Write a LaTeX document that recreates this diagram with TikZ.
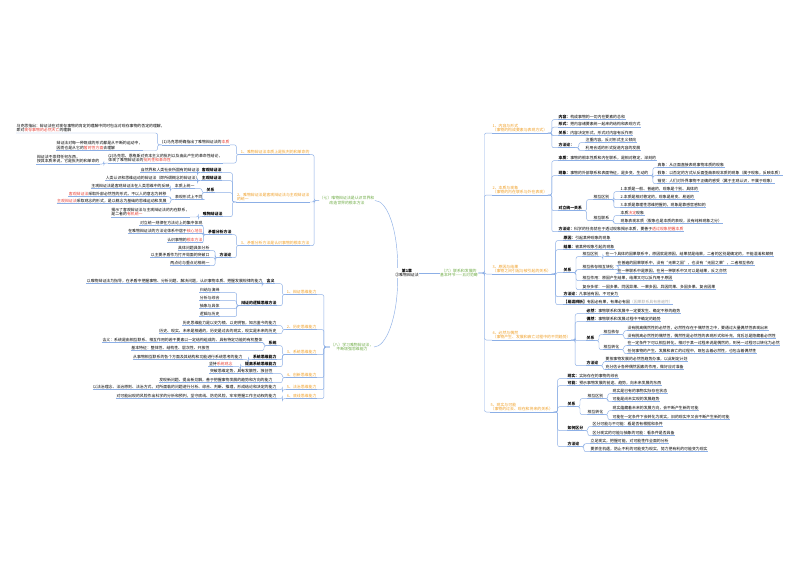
\documentclass[tikz,border=0pt]{standalone}
\usepackage{fontspec}
\setmainfont{Noto Sans CJK SC}
\newcommand\myfs{\fontsize{3.9}{4.8}\selectfont}
\definecolor{lc}{RGB}{140,175,230}
\definecolor{orc}{RGB}{240,160,40}
\definecolor{grc}{RGB}{112,173,71}
\definecolor{rdc}{RGB}{230,60,50}
\definecolor{gyc}{RGB}{170,170,170}
\newcommand\rcon[3][4]{\draw[cn] (#2.south east) -- ++(#1,0) |- (#3.south west);}
\newcommand\lcon[3][4]{\draw[cn] (#2.south west) -- ++(-#1,0) |- (#3.south east);}
\begin{document}
\begin{tikzpicture}[x=1pt,y=-1pt,
  base/.style={font=\myfs, inner xsep=0.4pt, inner ysep=0.6pt, align=left},
  lk/.style={draw=lc,line width=0.45pt},
  cn/.style={draw=lc,line width=0.45pt,rounded corners=2pt},
  ul/.style={append after command={(\tikzlastnode.south west) edge[lk] (\tikzlastnode.south east)}},
  R/.style={base,ul,anchor=west},
  L/.style={base,ul,anchor=east},
  RO/.style={R,text=orc},
  LO/.style={L,text=orc},
  main/.style={base,align=center,text=grc}]
\fill[white] (0,0) rectangle (800,566);
\useasboundingbox (0,0) rectangle (800,566);

% ---------- centre and main topics
\node[base,align=center] (c) at (407,273) {\textbf{第1章}\\②唯物辩证法};
\node[main] (n6) at (459,273) {（六）联系和发展的\\基本环节——五对范畴};
\node[main] (n7) at (347,200.5) {（七）唯物辩证法是认识世界和\\改造世界的根本方法};
\node[main] (n8) at (352,347) {（八）学习唯物辩证法，\\不断增强思维能力};
\draw[cn] (c.east) -- (n6.west);
\draw[cn] (n7.east) .. controls +(12,0) and +(0,-40) .. ([xshift=3pt]c.north west);
\draw[cn] (n8.east) .. controls +(12,0) and +(0,40) .. ([xshift=3pt]c.south west);

% ---------- right: five pairs
\node[RO] (R1) at (492,128) {1、内容与形式\\（事物的构成要素与表现方式）};
\node[RO] (R2) at (492,190) {2、本质与现象\\（事物的内在联系与外在表现）};
\node[RO] (R3) at (492,269) {3、原因与结果\\（事物之间引起与被引起的关系）};
\node[RO] (R4) at (492,335) {4、必然与偶然\\（事物产生、发展和衰亡过程中的不同趋势）};
\node[RO] (R5) at (490,407) {5、现实与可能\\（事物的过去、现在和将来的关系）};
\foreach \r in {R1,R2,R3,R4,R5} {\draw[cn] (n6.east) -- ++(6,0) |- (\r.south west);}

\node[R] (R1a) at (558,117) {\textbf{内容：}构成事物的一切内在要素的总和};
\node[R] (R1b) at (558,124.5) {\textbf{形式：}把内容诸要素统一起来的结构和表现方式};
\node[R] (R1c) at (558,133) {\textbf{关系：}内容决定形式，形式对内容有反作用};
\node[R] (R1d) at (558,145) {\textbf{方法论：}};
\node[R] (R1d1) at (585,140) {注重内容，反对形式主义倾向};
\node[R] (R1d2) at (585,148) {利用合适的形式促进内容的发展};
\rcon{R1}{R1a}\rcon{R1}{R1b}\rcon{R1}{R1c}\rcon{R1}{R1d}
\rcon{R1d}{R1d1}\rcon{R1d}{R1d2}

\node[R] (R2a) at (558,158) {\textbf{本质：}事物的根本性质和内在联系，是相对稳定、深刻的};
\node[R] (R2b) at (558,173) {\textbf{现象：}事物的外部联系和表面特征，是多变、生动的};
\node[R] (R2b1) at (657,165) {真象：从正面直接表现事物本质的现象};
\node[R] (R2b2) at (657,173) {假象：以否定的方式从反面歪曲表现本质的现象（属于现象，反映本质）};
\node[R] (R2b3) at (657,181) {错觉：人们对外界事物不正确的感受（属于主观认识，不属于现象）};
\node[R] (R2c) at (558,208) {\textbf{对立统一关系}};
\node[R] (R2c1) at (593,197) {相互区别};
\node[R] (R2c1a) at (620,189) {1.本质是一般、普遍的，现象是个别、具体的};
\node[R] (R2c1b) at (620,197) {2.本质是相对稳定的，现象是易变、易逝的};
\node[R] (R2c1c) at (620,205) {3.本质是靠理性思维把握的，现象是靠感官感知的};
\node[R] (R2c2) at (593,218) {相互联系};
\node[R] (R2c2a) at (620,213) {本质\textcolor{rdc}{决定}现象};
\node[R] (R2c2b) at (620,221) {现象表现本质（假象也是本质的表现，没有纯粹现象之分）};
\node[R] (R2d) at (558,229) {\textbf{方法论：}科学的任务就在于透过现象揭示本质，要善于\textcolor{rdc}{透过现象把握本质}};
\rcon{R2}{R2a}\rcon{R2}{R2b}\rcon{R2}{R2c}\rcon{R2}{R2d}
\rcon{R2b}{R2b1}\rcon{R2b}{R2b2}\rcon{R2b}{R2b3}
\rcon{R2c}{R2c1}\rcon{R2c}{R2c2}
\rcon{R2c1}{R2c1a}\rcon{R2c1}{R2c1b}\rcon{R2c1}{R2c1c}
\rcon{R2c2}{R2c2a}\rcon{R2c2}{R2c2b}

\node[R] (R3a) at (563,238) {\textbf{原因：}引起某种现象的现象};
\node[R] (R3b) at (563,247) {\textbf{结果：}被某种现象引起的现象};
\node[R] (R3c) at (563,270) {\textbf{关系}};
\node[R] (R3c1) at (582,254) {相互区别};
\node[R] (R3c1a) at (605,254) {在一个具体的因果联系中，原因就是原因，结果就是结果，二者的区别是确定的，不能混淆和颠倒};
\node[R] (R3c2) at (582,267) {相互依存相互转化};
\node[R] (R3c2a) at (617,263) {在普遍的因果联系中，没有“无果之因”，也没有“无因之果”，二者相互依存};
\node[R] (R3c2b) at (617,271) {在一种联系中是原因，在另一种联系中又可以是结果，反之亦然};
\node[R] (R3c3) at (582,278) {相互作用：原因产生结果，结果又可以反作用于原因};
\node[R] (R3c4) at (582,287) {复杂多样：一因多果、同因异果、一果多因、异因同果、多因多果、复合因果};
\node[R] (R3d) at (563,294) {\textbf{方法论：}凡事皆有因，不可妄为};
\node[R] (R3e) at (563,302) {\textbf{【易混辨析】}有因必有果，有果必有因\textcolor{gyc}{（因果联系具有普遍性）}};
\rcon{R3}{R3a}\rcon{R3}{R3b}\rcon{R3}{R3c}\rcon{R3}{R3d}\rcon{R3}{R3e}
\rcon{R3c}{R3c1}\rcon{R3c}{R3c2}\rcon{R3c}{R3c3}\rcon{R3c}{R3c4}
\rcon{R3c1}{R3c1a}\rcon{R3c2}{R3c2a}\rcon{R3c2}{R3c2b}

\node[R] (R4a) at (586,311) {\textbf{必然：}事物联系和发展中一定要发生、确定不移的趋势};
\node[R] (R4b) at (586,319) {\textbf{偶然：}事物联系和发展过程中不确定的趋势};
\node[R] (R4c) at (586,338) {\textbf{关系}};
\node[R] (R4c1) at (603,332) {相互依存};
\node[R] (R4c1a) at (627,328) {没有脱离偶然性的必然性，必然性存在于偶然性之中，要通过大量偶然性表现出来};
\node[R] (R4c1b) at (627,336) {没有脱离必然性的偶然性，偶然性是必然性的表现形式和补充，背后总是隐藏着必然性};
\node[R] (R4c2) at (603,347) {相互转化};
\node[R] (R4c2a) at (627,343) {在一定条件下可以相互转化，相对于某一过程来说是偶然的，到另一过程可以转化为必然};
\node[R] (R4c2b) at (627,351) {任何事物的产生、发展和衰亡的过程中，既包含着必然性，也包含着偶然性};
\node[R] (R4d) at (586,363) {\textbf{方法论}};
\node[R] (R4d1) at (605,359) {要按事物发展的必然性趋势办事，以此制定计划};
\node[R] (R4d2) at (605,367) {充分估计各种偶然因素的作用，做好应对准备};
\rcon{R4}{R4a}\rcon{R4}{R4b}\rcon{R4}{R4c}\rcon{R4}{R4d}
\rcon{R4c}{R4c1}\rcon{R4c}{R4c2}
\rcon{R4c1}{R4c1a}\rcon{R4c1}{R4c1b}\rcon{R4c2}{R4c2a}\rcon{R4c2}{R4c2b}
\rcon{R4d}{R4d1}\rcon{R4d}{R4d2}

\node[R] (R5a) at (567,376) {\textbf{现实：}实际存在的事物的综合};
\node[R] (R5b) at (567,383) {\textbf{可能：}预示事物发展的前途、趋势，向未来发展的东西};
\node[R] (R5c) at (567,404) {\textbf{关系}};
\node[R] (R5c1) at (587,396) {相互区别};
\node[R] (R5c1a) at (612,391) {现实是已有的事物实际存在状态};
\node[R] (R5c1b) at (612,399) {可能是尚未实现的发展趋势};
\node[R] (R5c2) at (587,412) {相互转化};
\node[R] (R5c2a) at (612,408) {现实蕴藏着未来的发展方向，会不断产生新的可能};
\node[R] (R5c2b) at (612,417) {可能在一定条件下会转化为现实，旧的现实中又会不断产生新的可能};
\node[R] (R5d) at (567,428) {\textbf{如何区分}};
\node[R] (R5d1) at (592,424) {区分可能与不可能：看是否有根据和条件};
\node[R] (R5d2) at (592,433) {区分现实的可能与抽象的可能：看条件是否具备};
\node[R] (R5e) at (567,444) {\textbf{方法论}};
\node[R] (R5e1) at (590,441) {立足现实，把握可能，对可能性作全面的分析};
\node[R] (R5e2) at (590,449) {要抓住机遇，防止不利的可能变为现实，努力把有利的可能变为现实};
\rcon{R5}{R5a}\rcon{R5}{R5b}\rcon{R5}{R5c}\rcon{R5}{R5d}\rcon{R5}{R5e}
\rcon{R5c}{R5c1}\rcon{R5c}{R5c2}
\rcon{R5c1}{R5c1a}\rcon{R5c1}{R5c1b}\rcon{R5c2}{R5c2a}\rcon{R5c2}{R5c2b}
\rcon{R5d}{R5d1}\rcon{R5d}{R5d2}\rcon{R5e}{R5e1}\rcon{R5e}{R5e2}

% ---------- left: (七)
\node[LO] (L1) at (310,152) {1、唯物辩证法本质上是批判的和革命的};
\node[LO] (L2) at (310,197) {2、唯物辩证法是客观辩证法与主观辩证法\\的统一};
\node[LO] (L3) at (310,243) {3、矛盾分析方法是认识事物的根本方法};
\foreach \l in {L1,L2,L3} {\draw[cn] (n7.west) -- ++(-5,0) |- (\l.south east);}

\node[L] (L1a) at (230,142) {(1)马克思明确指出了唯物辩证法的\textcolor{rdc}{本质}};
\node[base,anchor=south west] (L1a1) at (16,133) {马克思指出：辩证法在对现存事物的肯定的理解中同时包含对现存事物的否定的理解，\\即对\textcolor{rdc}{现存事物的必然灭亡}的理解};
\node[L] (L1a2) at (143,145.5) {辩证法对每一种既成的形式都是从不断的运动中，\\因而也是从它的\textcolor{rdc}{暂时性方面}去理解};
\node[L] (L1b) at (223,158) {(2)马克思、恩格斯对资本主义的批判以及由此产生的革命性结论，\\体现了唯物辩证法的\textcolor{rdc}{批判性和革命性}};
\node[L] (L1b1) at (100,159) {辩证法不崇拜任何东西，\\按其本质来说，它是批判的和革命的};
\lcon{L1}{L1a}\lcon{L1}{L1b}
\lcon{L1a}{L1a2}
\draw[cn] (L1a.south west) -- ++(-4,0) |- (L1a1.south west);
\lcon{L1b}{L1b1}

\node[L] (L2a) at (222,170) {\textbf{客观辩证法}};
\node[L] (L2a1) at (200,170) {自然界和人类社会所固有的辩证法};
\node[L] (L2b) at (222,178) {\textbf{主观辩证法}};
\node[L] (L2b1) at (200,178) {人类认识和思维运动的辩证法（即所谓概念的辩证法）};
\node[L] (L2c) at (215,190) {\textbf{关系}};
\node[L] (L2c1) at (195,186) {本质上统一};
\node[L] (L2c1a) at (170,186) {主观辩证法是客观辩证法在人类思维中的反映};
\node[L] (L2c2) at (203,197) {表现形式上不同};
\node[L] (L2c2a) at (167,194) {\textcolor{rdc}{客观辩证法}采取外部必然性的形式，不以人的意志为转移};
\node[L] (L2c2b) at (167,201) {\textcolor{rdc}{主观辩证法}采取观念的形式，是以概念为基础的思维运动和发展};
\node[L] (L2d) at (223,214) {\textbf{唯物辩证法}};
\node[L] (L2d1) at (190,212) {揭示了客观辩证法与主观辩证法的内在联系，\\是二者的\textcolor{rdc}{有机统一}};
\lcon{L2}{L2a}\lcon{L2}{L2b}\lcon{L2}{L2c}\lcon{L2}{L2d}
\lcon{L2a}{L2a1}\lcon{L2b}{L2b1}
\lcon{L2c}{L2c1}\lcon{L2c}{L2c2}
\lcon{L2c1}{L2c1a}\lcon{L2c2}{L2c2a}\lcon{L2c2}{L2c2b}
\lcon{L2d}{L2d1}

\node[L] (L3a) at (232,232) {\textbf{矛盾分析方法}};
\node[L] (L3a1) at (203,223) {对立统一规律在方法论上的集中体现};
\node[L] (L3a2) at (203,231) {在唯物辩证法的方法论体系中居于\textcolor{rdc}{核心地位}};
\node[L] (L3a3) at (203,240) {认识事物的\textcolor{rdc}{根本方法}};
\node[L] (L3b) at (232,255) {\textbf{方法论}};
\node[L] (L3b1) at (210,248) {具体问题具体分析};
\node[L] (L3b2) at (210,255) {以主要矛盾作为打开局面的突破口};
\node[L] (L3b3) at (210,263) {两点论与重点论相统一};
\lcon{L3}{L3a}\lcon{L3}{L3b}
\lcon{L3a}{L3a1}\lcon{L3a}{L3a2}\lcon{L3a}{L3a3}
\lcon{L3b}{L3b1}\lcon{L3b}{L3b2}\lcon{L3b}{L3b3}

% ---------- left: (八)
\node[LO] (M1) at (317,292) {1、辩证思维能力};
\node[LO] (M2) at (317,327) {2、历史思维能力};
\node[LO] (M3) at (317,352) {3、系统思维能力};
\node[LO] (M4) at (317,375) {4、创新思维能力};
\node[LO] (M5) at (317,387) {5、法治思维能力};
\node[LO] (M6) at (317,396) {6、底线思维能力};
\foreach \m in {M1,M2,M3,M4,M5,M6} {\draw[cn] (n8.west) -- ++(-6,0) |- (\m.south east);}

\node[L] (M1a) at (275,281) {\textbf{含义}};
\node[L] (M1a1) at (263,281) {以唯物辩证法为指导，在矛盾中把握事物、分析问题、解决问题，认识事物本质、把握发展规律的能力};
\node[L] (M1b) at (277,303) {\textbf{辩证的逻辑思维方法}};
\node[L] (M1b1) at (220,290) {归纳与演绎};
\node[L] (M1b2) at (220,298) {分析与综合};
\node[L] (M1b3) at (220,306) {抽象与具体};
\node[L] (M1b4) at (220,314) {逻辑与历史};
\lcon{M1}{M1a}\lcon{M1}{M1b}\lcon{M1a}{M1a1}
\lcon{M1b}{M1b1}\lcon{M1b}{M1b2}\lcon{M1b}{M1b3}\lcon{M1b}{M1b4}

\node[L] (M2a) at (277,323) {历史思维能力是以史为镜、以史明智，知古鉴今的能力};
\node[L] (M2b) at (277,331) {历史、现实、未来是相通的，历史是过去的现实，现实是未来的历史};
\lcon{M2}{M2a}\lcon{M2}{M2b}

\node[L] (M3a) at (277,343) {\textbf{系统}};
\node[L] (M3a1) at (263,340) {含义：系统是由相互联系、相互作用的若干要素以一定结构组成的、具有特定功能的有机整体};
\node[L] (M3a2) at (210,348) {基本特征：整体性、结构性、层次性、开放性};
\node[L] (M3b) at (277,357) {\textbf{系统思维能力}};
\node[L] (M3b1) at (243,357) {从事物相互联系的各个方面及其结构和功能进行系统思考的能力};
\node[L] (M3c) at (277,364) {\textbf{提高系统思维能力}};
\node[L] (M3c1) at (233,364) {坚持\textcolor{rdc}{系统观念}};
\lcon{M3}{M3a}\lcon{M3}{M3b}\lcon{M3}{M3c}
\lcon{M3a}{M3a1}\lcon{M3a}{M3a2}\lcon{M3b}{M3b1}\lcon{M3c}{M3c1}

\node[L] (M4a) at (273,371) {突破思维定势，具有发散性、独创性};
\node[L] (M4b) at (273,380) {发现新问题、提出新见解，善于把握事物发展的趋势和方向的能力};
\node[L] (M5a) at (277,387) {以法治理念、法治原则、法治方式，对所面临的问题进行分析、综合、判断、推理，形成结论和决定的能力};
\node[L] (M6a) at (277,396) {对可能出现的风险作出科学的分析和预判，坚守底线、防范风险，牢牢把握工作主动权的能力};
\lcon{M4}{M4a}\lcon{M4}{M4b}\lcon{M5}{M5a}\lcon{M6}{M6a}
\end{tikzpicture}
\end{document}
